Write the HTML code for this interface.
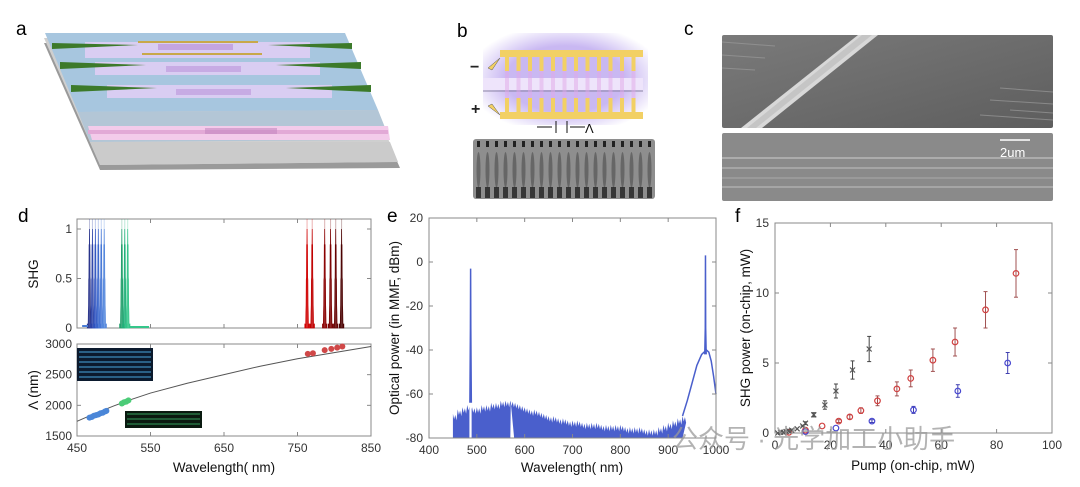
<!DOCTYPE html>
<html><head><meta charset="utf-8"><style>
html,body{margin:0;padding:0;background:#fff;}
svg{display:block;font-family:"Liberation Sans","Noto Sans CJK SC",sans-serif;}
.tk{font-size:12px;fill:#333;}
.lb{font-size:13.5px;fill:#111;}
.pl{font-size:19px;fill:#000;}
</style></head><body>
<svg id="fig" width="1080" height="487" viewBox="0 0 1080 487" xmlns="http://www.w3.org/2000/svg">
<defs>
<linearGradient id="semg" x1="0" y1="0" x2="1" y2="1"><stop offset="0" stop-color="#7a7a7a"/><stop offset="1" stop-color="#5e5e5e"/></linearGradient>
<radialGradient id="purp" cx="0.5" cy="0.5" r="0.6"><stop offset="0.6" stop-color="#c9b8f2"/><stop offset="1" stop-color="#fff"/></radialGradient>
</defs>
<g>
<text class="pl" x="16" y="35">a</text>
<polygon points="44,43 345,43 400,168 100,170" fill="#9a9a9a"/>
<polygon points="44,38 345,38 398,162 100,165" fill="#cfcfcf"/>
<polygon points="45,33 345,33 378,110 78,112" fill="#a7c6df"/>
<polygon points="78,112 378,110 390,140 90,142" fill="#b3c6d6"/>
<polygon points="88,126 388,126 390,140 92,140" fill="#f3cbea"/>
<rect x="88" y="130" width="300" height="4" fill="#e2a9d6"/>
<polygon points="90,142 390,142 398,162 100,165" fill="#cbcbcb"/>
<rect x="85" y="42" width="225" height="16" fill="#d9cdf2"/>
<rect x="95" y="62" width="225" height="13" fill="#d9cdf2"/>
<rect x="107" y="85" width="225" height="13" fill="#d9cdf2"/>
<rect x="138" y="41" width="120" height="2" fill="#c8a84a"/>
<rect x="142" y="53" width="120" height="2" fill="#c8a84a"/>
<rect x="158" y="44" width="75" height="6" fill="#b58ad6" opacity="0.6"/>
<rect x="166" y="66" width="75" height="6" fill="#b58ad6" opacity="0.5"/>
<rect x="176" y="89" width="75" height="6" fill="#b58ad6" opacity="0.5"/>
<rect x="205" y="128" width="72" height="6" fill="#c488c0" opacity="0.6"/>
<polygon points="52,43 138,45 52,49" fill="#3c7a2a"/><polygon points="352,43 268,45 352,49" fill="#3c7a2a"/>
<polygon points="60,62 146,65 60,69" fill="#3c7a2a"/><polygon points="361,62 276,65 361,69" fill="#3c7a2a"/>
<polygon points="71,85 157,88 71,92" fill="#3c7a2a"/><polygon points="371,85 286,88 371,92" fill="#3c7a2a"/>
</g>
<g>
<text class="pl" x="457" y="37">b</text>
<rect x="483" y="33" width="165" height="92" fill="url(#purp)"/>
<rect x="483" y="78" width="160" height="12" fill="#eee4fb"/>
<line x1="483" y1="91" x2="643" y2="91" stroke="#8b84a4" stroke-width="1"/>
<rect x="500" y="50" width="143" height="7" fill="#f2d064"/>
<rect x="500" y="112" width="143" height="7" fill="#f2d064"/>
<g id="fingers"></g>
<text x="470" y="72" font-size="16" font-weight="bold" fill="#222">−</text>
<text x="471" y="114" font-size="16" font-weight="bold" fill="#222">+</text>
<polygon points="488,68 500,58 492,70" fill="#f2d064" stroke="#555" stroke-width="0.5"/>
<polygon points="488,106 500,115 492,104" fill="#f2d064" stroke="#555" stroke-width="0.5"/>
<line x1="537" y1="127" x2="552" y2="127" stroke="#111"/><line x1="556" y1="121" x2="556" y2="133" stroke="#111"/>
<line x1="567" y1="121" x2="567" y2="133" stroke="#111"/><line x1="570" y1="127" x2="585" y2="127" stroke="#111"/>
<text x="585" y="133" font-size="13" fill="#111">Λ</text>
<rect x="473" y="139" width="182" height="60" rx="3" fill="#8e8e8e"/>
<g id="semb"></g>
</g>
<g>
<text class="pl" x="684" y="35">c</text>
<rect x="722" y="35" width="331" height="93" rx="2" fill="url(#semg)"/>
<g stroke="#9a9a9a" stroke-width="1" opacity="0.7">
<line x1="722" y1="42" x2="775" y2="46"/><line x1="722" y1="55" x2="765" y2="58"/><line x1="722" y1="68" x2="755" y2="70"/>
<line x1="990" y1="100" x2="1053" y2="104"/><line x1="1000" y1="88" x2="1053" y2="92"/><line x1="1010" y1="110" x2="1053" y2="113"/><line x1="980" y1="115" x2="1053" y2="120"/>
</g>
<polygon points="858,35 878,35 762,128 741,128" fill="#d8d8d8"/>
<polygon points="862,35 872,35 756,128 747,128" fill="#bdbdbd" opacity="0.7"/>
<rect x="722" y="133" width="331" height="68" rx="2" fill="#8a8a8a"/>
<line x1="722" y1="158" x2="1053" y2="158" stroke="#cfcfcf"/><line x1="722" y1="168" x2="1053" y2="168" stroke="#c0c0c0"/>
<line x1="722" y1="178" x2="1053" y2="178" stroke="#aaa"/><line x1="722" y1="187" x2="1053" y2="187" stroke="#c0c0c0"/>
<line x1="1000" y1="140" x2="1030" y2="140" stroke="#fff" stroke-width="1.5"/>
<text x="1000" y="157" font-size="13" fill="#fff">2um</text>
</g>
<g id="pd"></g>
<g id="pe"></g>
<g id="pf"></g>
<text x="672" y="448" font-size="26" fill="#9a9a9a" opacity="0.75">公众号 · 光学加工小助手</text>
</svg>
<script>
// ---- panel d data ----
const dBlueCenters=[467,471,475,479,483,487];
const dGreenCenters=[511,515,519];
const dRedCenters=[763,770,787,795,802,810];
const dXTicks=[450,550,650,750,850];
const dShgTicks=[0,0.5,1];
const dLamTicks=[1500,2000,2500,3000];
const dBlueDotsX=[467,470,473,476,479,482,485,488,490];
const dBlueDotsY=[1800,1810,1830,1840,1850,1870,1880,1900,1910];
const dGreenDotsX=[511,514,517,520];
const dGreenDotsY=[2030,2050,2060,2080];
const dRedDotsX=[764,771,787,796,804,811];
const dRedDotsY=[2840,2850,2900,2920,2940,2960];
const dFitX=[450,475,500,525,550,600,650,700,750,800,850];
const dFitY=[1740,1870,1990,2100,2200,2360,2500,2640,2760,2860,2960];
// ---- panel e data ----
const eXTicks=[400,500,600,700,800,900,1000];
const eYTicks=[20,0,-20,-40,-60,-80];
const eFloorX=[450,460,470,480,490,500,510,520,530,540,550,560,570,580,590,600,610,620,630,640,650,660,670,680,690,700,710,720,730,740,750,760,770,780,790,800,810,820,830,840,850,860,870,880,890,900,910,920,930];
const eFloorY=[-69,-67,-66,-65,-66,-66,-65,-65,-64,-64,-63,-63,-63,-64,-65,-66,-67,-67,-68,-69,-70,-70,-71,-71,-72,-72,-72,-73,-73,-73,-73,-74,-74,-74,-74,-74,-75,-75,-75,-75,-76,-76,-76,-75,-74,-73,-72,-71,-70];
const ePumpX=[930,940,950,960,970,975,980,985,990,995,1000];
const ePumpY=[-70,-63,-55,-47,-42,-41,-40,-41,-45,-52,-60];
const ePeakX=[487,978];
const ePeakY=[-3,3];
// ---- panel f data ----
const fXTicks=[0,20,40,60,80,100];
const fYTicks=[0,5,10,15];
const fGrayX=[1,2,3,4,5,6,8,10,11,14,18,22,28,34];
const fGrayY=[0,0.05,0.05,0.1,0.15,0.2,0.3,0.5,0.7,1.3,2,3,4.5,6];
const fGrayE=[0,0,0,0,0,0,0,0.05,0.1,0.15,0.3,0.5,0.65,0.9];
const fRedX=[5,11,17,23,27,31,37,44,49,57,65,76,87];
const fRedY=[0.05,0.2,0.5,0.85,1.15,1.6,2.3,3.15,3.9,5.2,6.5,8.8,11.4];
const fRedE=[0,0,0,0.1,0.15,0.2,0.35,0.5,0.6,0.8,1,1.3,1.7];
const fBlueX=[11,22,35,50,66,84];
const fBlueY=[0.1,0.35,0.85,1.65,3.0,5.0];
const fBlueE=[0,0,0.1,0.25,0.45,0.75];

const NS='http://www.w3.org/2000/svg';
function mk(parent,tag,attrs,text){const e=document.createElementNS(NS,tag);for(const k in attrs)e.setAttribute(k,attrs[k]);if(text!==undefined)e.textContent=text;parent.appendChild(e);return e;}
function lin(d0,d1,p0,p1){return v=>p0+(v-d0)/(d1-d0)*(p1-p0);}

const fg=document.getElementById('fingers');
for(let i=0;i<12;i++){const x=505+i*11.5;
 let r=mk(fg,'rect',{x:x,y:57,width:4,height:14,fill:'#f2d064'});
 
 mk(fg,'rect',{x:x,y:98,width:4,height:14,fill:'#f2d064'});
 mk(fg,'rect',{x:x,y:71,width:4,height:27,fill:'#e0a8e8',opacity:0.5});}
const sb=document.getElementById('semb');
for(let i=0;i<20;i++){const x=477+i*9;mk(sb,'rect',{x:x,y:141,width:3,height:6,fill:'#222'});
 mk(sb,'ellipse',{cx:x+1.5,cy:170,rx:2,ry:18,fill:'#555',opacity:0.7});
 mk(sb,'rect',{x:x-1,y:187,width:5,height:11,fill:'#222',opacity:0.8});}

function frame(g,l,t,r,b){return mk(g,'rect',{x:l,y:t,width:r-l,height:b-t,fill:'none',stroke:'#888','stroke-width':1});}

// ---- panel d ----
(function(){
const g=document.getElementById('pd');
mk(g,'text',{class:'pl',x:18,y:222},'d');
const X=lin(450,850,77,371);
const Ys=lin(0,1,328,229), Yl=lin(1500,3000,436,344);
frame(g,77,219,371,328);frame(g,77,344,371,436);
dXTicks.forEach(v=>{mk(g,'line',{x1:X(v),x2:X(v),y1:328,y2:324,stroke:'#888'});mk(g,'line',{x1:X(v),x2:X(v),y1:219,y2:223,stroke:'#888'});
 mk(g,'line',{x1:X(v),x2:X(v),y1:436,y2:432,stroke:'#888'});mk(g,'line',{x1:X(v),x2:X(v),y1:344,y2:348,stroke:'#888'});
 const t=mk(g,'text',{class:'tk',x:X(v),y:452,'text-anchor':'middle'},v);});
dShgTicks.forEach(v=>{mk(g,'line',{x1:77,x2:81,y1:Ys(v),y2:Ys(v),stroke:'#888'});mk(g,'line',{x1:371,x2:367,y1:Ys(v),y2:Ys(v),stroke:'#888'});
 mk(g,'text',{class:'tk',x:72,y:Ys(v)+4,'text-anchor':'end'},v);});
dLamTicks.forEach(v=>{mk(g,'line',{x1:77,x2:81,y1:Yl(v),y2:Yl(v),stroke:'#888'});mk(g,'line',{x1:371,x2:367,y1:Yl(v),y2:Yl(v),stroke:'#888'});
 mk(g,'text',{class:'tk',x:72,y:Yl(v)+4,'text-anchor':'end'},v);});
mk(g,'text',{class:'lb',x:224,y:472,'text-anchor':'middle'},'Wavelength( nm)');
mk(g,'text',{class:'lb',x:0,y:0,transform:'translate(38,274) rotate(-90)','text-anchor':'middle'},'SHG');
mk(g,'text',{class:'lb',x:0,y:0,transform:'translate(38,390) rotate(-90)','text-anchor':'middle'},'Λ (nm)');
function peak(c,col){let pts=[X(c-3)+','+Ys(0)];
 for(let dx=-3;dx<=3;dx+=0.25){const a=Math.PI*dx*0.45;const s=dx===0?1:Math.pow(Math.sin(a)/a,2);pts.push(X(c+dx)+','+Ys(s*(Math.round(dx*4)%2?0.75:1)));}
 pts.push(X(c+3)+','+Ys(0));
 const p=mk(g,'polygon',{points:pts.join(' '),fill:col,stroke:col,'stroke-width':0.8,'fill-opacity':0.85});
 mk(g,'line',{x1:X(c),x2:X(c),y1:Ys(1),y2:219,stroke:col,opacity:0.3});}
const bc=['#27328a','#2d44a8','#3155bf','#3a66cc','#4677d6','#5588dd'];
dBlueCenters.forEach((c,i)=>peak(c,bc[i]));
mk(g,'line',{x1:X(457),x2:X(465),y1:Ys(0.02),y2:Ys(0.02),stroke:'#4a7cd6','stroke-width':2});
const gc=['#1f9f6a','#22b07a','#35c68a'];
dGreenCenters.forEach((c,i)=>peak(c,gc[i]));
mk(g,'line',{x1:X(521),x2:X(548),y1:Ys(0.01),y2:Ys(0.01),stroke:'#35c68a','stroke-width':2});
const rc=['#d00000','#c00000','#8a0000','#7a0000','#650000','#4a0000'];
dRedCenters.forEach((c,i)=>peak(c,rc[i]));
mk(g,'rect',{x:77,y:348,width:76,height:33,fill:'#0b1a2e'});
for(let i=0;i<6;i++)mk(g,'line',{x1:79,x2:151,y1:352+i*5,y2:352+i*5,stroke:'#4aa8e0','stroke-width':1.2,opacity:0.8});
mk(g,'rect',{x:125,y:411,width:77,height:17,fill:'#0a1a10'});
for(let i=0;i<3;i++)mk(g,'line',{x1:127,x2:200,y1:414+i*5,y2:414+i*5,stroke:'#3fbf70','stroke-width':1,opacity:0.8});
const fit=mk(g,'polyline',{points:dFitX.map((x,i)=>X(x)+','+Yl(dFitY[i])).join(' '),fill:'none',stroke:'#555','stroke-width':1});

function dots(xs,ys,col){xs.forEach((x,i)=>{const c=mk(g,'circle',{cx:X(x),cy:Yl(ys[i]),r:3,fill:col});});}
dots(dBlueDotsX,dBlueDotsY,'#4a86d8');dots(dGreenDotsX,dGreenDotsY,'#4ccc78');dots(dRedDotsX,dRedDotsY,'#d04848');
})();

// ---- panel e ----
(function(){
const g=document.getElementById('pe');
mk(g,'text',{class:'pl',x:387,y:222},'e');
const X=lin(400,1000,429,716),Y=lin(-80,20,438,218);
const col='#4a5fcc';
let pts=[X(eFloorX[0])+','+Y(-80)];
eFloorX.forEach((x,i)=>{pts.push(X(x)+','+Y(eFloorY[i]));pts.push(X(x+2.5)+','+Y(eFloorY[i]-2.5));pts.push(X(x+5)+','+Y(eFloorY[i]-0.5));pts.push(X(x+7.5)+','+Y(eFloorY[i]-3));});
pts.push(X(930)+','+Y(-80));
const a=mk(g,'polygon',{points:pts.join(' '),fill:col});
mk(g,'rect',{x:X(484.5),y:Y(-62),width:2.2,height:Y(-80)-Y(-62),fill:'#fff'});
mk(g,'polygon',{points:[X(571)+','+Y(-64),X(578)+','+Y(-80),X(570)+','+Y(-80)].join(' '),fill:'#fff'});
const pl=mk(g,'polyline',{points:ePumpX.map((x,i)=>X(x)+','+Y(ePumpY[i])).join(' '),fill:'none',stroke:col,'stroke-width':1.5});

ePeakX.forEach((x,i)=>{const base=i===0?-64:-42;const p=mk(g,'polyline',{points:[X(x-1.5)+','+Y(base),X(x-0.4)+','+Y(-30),X(x)+','+Y(ePeakY[i]),X(x+0.4)+','+Y(-30),X(x+1.5)+','+Y(base)].join(' '),fill:'none',stroke:col,'stroke-width':1.5});
 });
frame(g,429,218,716,438);
eXTicks.forEach(v=>{mk(g,'line',{x1:X(v),x2:X(v),y1:438,y2:434,stroke:'#888'});mk(g,'line',{x1:X(v),x2:X(v),y1:218,y2:222,stroke:'#888'});
 mk(g,'text',{class:'tk',x:X(v),y:454,'text-anchor':'middle'},v);});
eYTicks.forEach(v=>{mk(g,'line',{x1:429,x2:433,y1:Y(v),y2:Y(v),stroke:'#888'});mk(g,'line',{x1:716,x2:712,y1:Y(v),y2:Y(v),stroke:'#888'});
 mk(g,'text',{class:'tk',x:423,y:Y(v)+4,'text-anchor':'end'},v);});
mk(g,'text',{class:'lb',x:572,y:472,'text-anchor':'middle'},'Wavelength( nm)');
mk(g,'text',{class:'lb',x:0,y:0,transform:'translate(399,328) rotate(-90)','text-anchor':'middle'},'Optical power (in MMF, dBm)');
})();

// ---- panel f ----
(function(){
const g=document.getElementById('pf');
mk(g,'text',{class:'pl',x:735,y:222},'f');
const X=lin(0,100,775,1052),Y=lin(0,15,433,223);
frame(g,775,223,1052,433);
fXTicks.forEach(v=>{mk(g,'line',{x1:X(v),x2:X(v),y1:433,y2:429,stroke:'#888'});mk(g,'line',{x1:X(v),x2:X(v),y1:223,y2:227,stroke:'#888'});
 mk(g,'text',{class:'tk',x:X(v),y:449,'text-anchor':'middle'},v);});
fYTicks.forEach(v=>{mk(g,'line',{x1:775,x2:779,y1:Y(v),y2:Y(v),stroke:'#888'});mk(g,'line',{x1:1052,x2:1048,y1:Y(v),y2:Y(v),stroke:'#888'});
 mk(g,'text',{class:'tk',x:769,y:Y(v)+4,'text-anchor':'end'},v);});
mk(g,'text',{class:'lb',x:913,y:470,'text-anchor':'middle'},'Pump (on-chip, mW)');
mk(g,'text',{class:'lb',x:0,y:0,transform:'translate(750,328) rotate(-90)','text-anchor':'middle'},'SHG power (on-chip, mW)');
function err(x,y,e,col){if(e<=0)return;mk(g,'line',{x1:X(x),x2:X(x),y1:Y(y-e),y2:Y(y+e),stroke:col,'stroke-width':1});
 mk(g,'line',{x1:X(x)-2,x2:X(x)+2,y1:Y(y-e),y2:Y(y-e),stroke:col});mk(g,'line',{x1:X(x)-2,x2:X(x)+2,y1:Y(y+e),y2:Y(y+e),stroke:col});}
fRedX.forEach((x,i)=>{err(x,fRedY[i],fRedE[i],'#a05050');const c=mk(g,'circle',{cx:X(x),cy:Y(fRedY[i]),r:2.8,fill:'none',stroke:'#d04040','stroke-width':1.2});
 });
fBlueX.forEach((x,i)=>{err(x,fBlueY[i],fBlueE[i],'#4040b0');const c=mk(g,'circle',{cx:X(x),cy:Y(fBlueY[i]),r:2.8,fill:'none',stroke:'#4848d0','stroke-width':1.2});
 });
fGrayX.forEach((x,i)=>{err(x,fGrayY[i],fGrayE[i],'#444');const cx=X(x),cy=Y(fGrayY[i]);
 const p=mk(g,'path',{d:`M${cx-2.5},${cy-2.5}L${cx+2.5},${cy+2.5}M${cx-2.5},${cy+2.5}L${cx+2.5},${cy-2.5}`,stroke:'#555','stroke-width':1.2});
 });
})();
</script>
</body></html>
